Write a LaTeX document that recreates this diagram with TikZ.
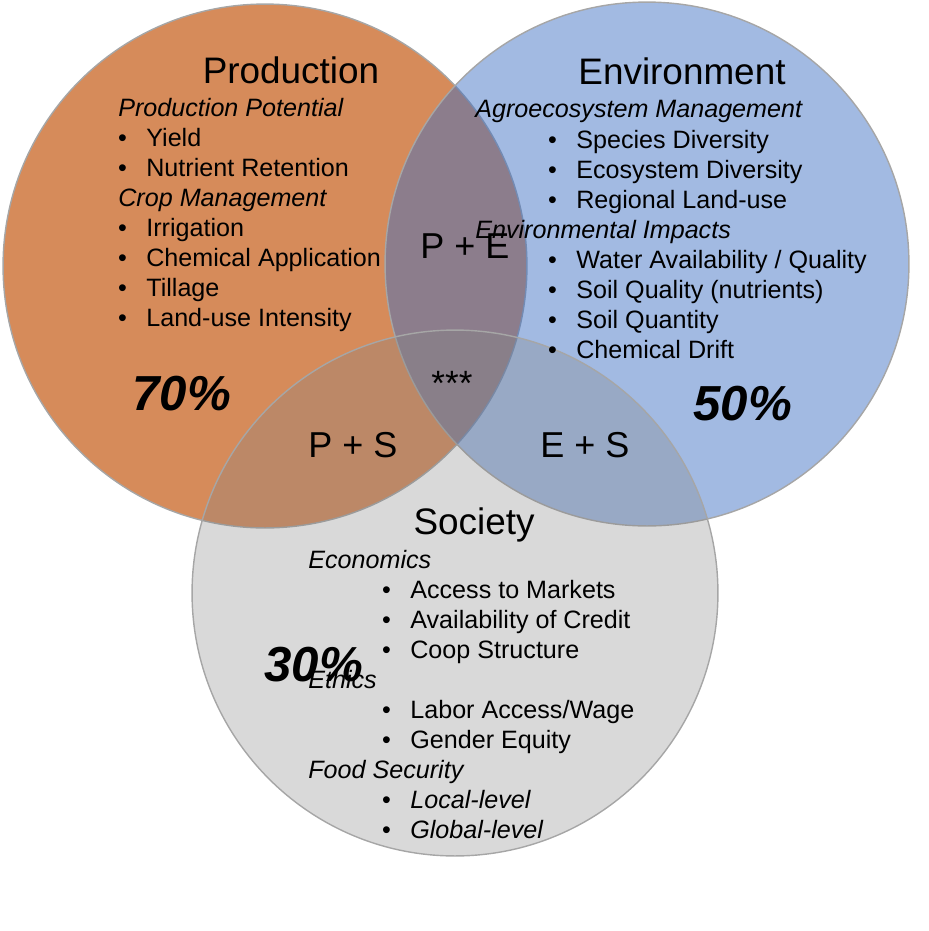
\documentclass[tikz,border=0pt]{standalone}
\usepackage{fontspec}
\setmainfont{Liberation Sans}
\usepackage{xcolor}
\usepackage{tikz}
\definecolor{prodC}{RGB}{214,139,90}
\definecolor{envC}{RGB}{60,110,195}
\definecolor{socC}{RGB}{132,132,132}
\definecolor{rimC}{RGB}{166,166,166}
\tikzset{
  rim/.style={draw=rimC,line width=0.8pt},
  circtitle/.style={font=\fontsize{21}{25}\selectfont,anchor=base,inner sep=0pt},
  subhead/.style={font=\fontsize{14.3}{17}\selectfont\itshape,anchor=base west,inner sep=0pt},
  bulletline/.style={font=\fontsize{14.3}{17}\selectfont,anchor=base west,inner sep=0pt},
  overlap/.style={font=\fontsize{20.5}{24}\selectfont,anchor=base west,inner sep=0pt},
  pctlabel/.style={font=\fontsize{28}{34}\selectfont\bfseries\itshape,anchor=base west,inner sep=0pt},
}
\newcommand{\bul}{\llap{\textbullet\hspace{11pt}}}
\newcommand{\prodcircle}{%
  \fill[prodC] (265,266) circle[radius=5.24cm];
  \draw[rim] (265,266) circle[radius=5.24cm];
}
\newcommand{\envcircle}{%
  \fill[envC,fill opacity=.48] (647,264) circle[radius=5.24cm];
  \draw[rim] (647,264) circle[radius=5.24cm];
}
\newcommand{\soccircle}{%
  \fill[socC,fill opacity=.31] (455,593) circle[radius=5.26cm];
  \draw[rim] (455,593) circle[radius=5.26cm];
}

\begin{document}
\begin{tikzpicture}[x=0.02cm,y=-0.02cm]
\useasboundingbox (0,0) rectangle (929,931);
\prodcircle \envcircle \soccircle
% production
\node[circtitle] (prod) at (291,83) {Production};
\node[subhead] (pp) at (118,116) {Production Potential};
\node[bulletline] (yield) at (146,146) {\bul Yield};
\node[bulletline] (nutr) at (146,176) {\bul Nutrient Retention};
\node[subhead] (cm) at (118,206) {Crop Management};
\node[bulletline] (irr) at (146,236) {\bul Irrigation};
\node[bulletline] (chem) at (146,266) {\bul Chemical Application};
\node[bulletline] (till) at (146,296) {\bul Tillage};
\node[bulletline] (land) at (146,326) {\bul Land-use Intensity};
\node[pctlabel] (p70) at (132,410) {70\%};
% environment
\node[circtitle] (env) at (682,84) {Environment};
\node[subhead] (am) at (475,117) {Agroecosystem Management};
\node[bulletline] (spec) at (576,148) {\bul Species Diversity};
\node[bulletline] (eco) at (576,178) {\bul Ecosystem Diversity};
\node[bulletline] (reg) at (576,208) {\bul Regional Land-use};
\node[subhead] (ei) at (475,238) {Environmental Impacts};
\node[bulletline] (water) at (576,268) {\bul Water Availability / Quality};
\node[bulletline] (squal) at (576,298) {\bul Soil Quality (nutrients)};
\node[bulletline] (squant) at (576,328) {\bul Soil Quantity};
\node[bulletline] (drift) at (576,358) {\bul Chemical Drift};
\node[pctlabel] (e50) at (693,420) {50\%};
% overlaps
\node[overlap] (pe) at (420,258) {P + E};
\node[font=\fontsize{20}{24}\selectfont,anchor=base,inner sep=0pt] (star) at (452,395) {***};
\node[overlap] (ps) at (308,457) {P + S};
\node[overlap] (es) at (540,457) {E + S};
% society
\node[circtitle] (soc) at (474,534) {Society};
\node[subhead] (econ) at (308,568) {Economics};
\node[bulletline] (mkt) at (410,598) {\bul Access to Markets};
\node[bulletline] (cred) at (410,628) {\bul Availability of Credit};
\node[bulletline] (coop) at (410,658) {\bul Coop Structure};
\node[subhead] (eth) at (308,688) {Ethics};
\node[bulletline] (labor) at (410,718) {\bul Labor Access/Wage};
\node[bulletline] (gender) at (410,748) {\bul Gender Equity};
\node[subhead] (food) at (308,778) {Food Security};
\node[bulletline] (local) at (410,808) {\bul\textit{Local-level}};
\node[bulletline] (global) at (410,838) {\bul\textit{Global-level}};
\node[pctlabel] (s30) at (264,681) {30\%};
\end{tikzpicture}
\end{document}
